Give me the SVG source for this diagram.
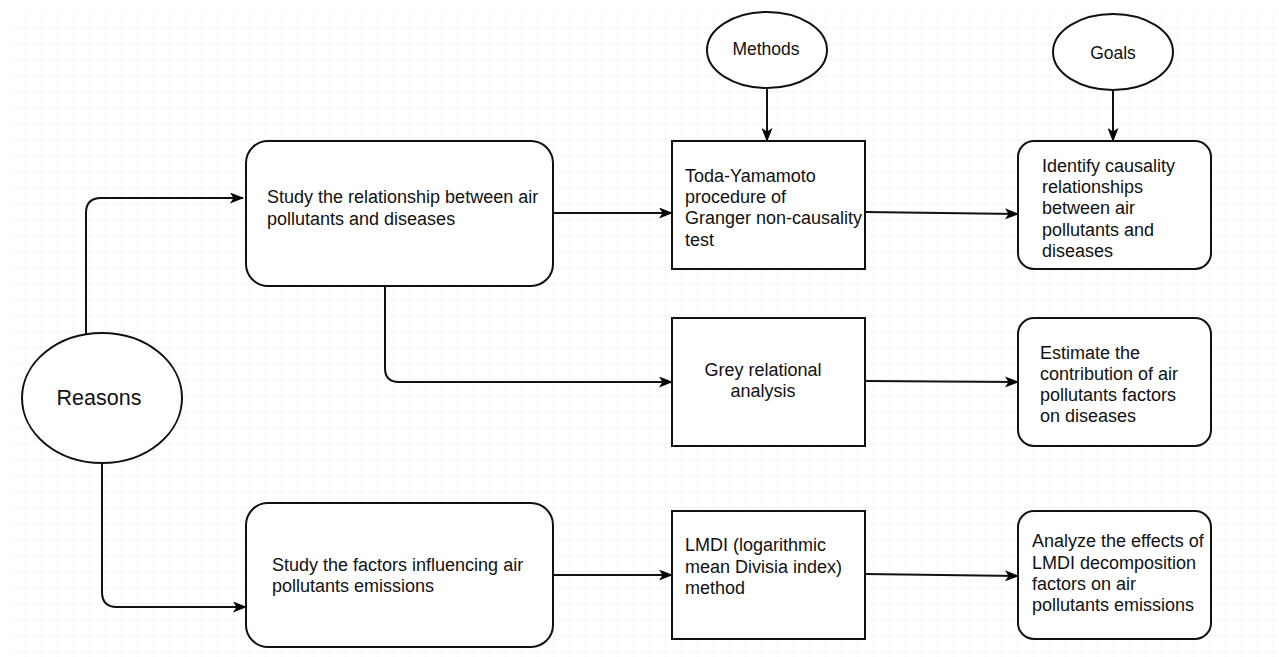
<svg xmlns="http://www.w3.org/2000/svg" width="1279" height="657" viewBox="0 0 1279 657">
<defs>
<pattern id="grid" x="10" y="12" width="16" height="16" patternUnits="userSpaceOnUse">
<path d="M16 0V16M0 16H16" fill="none" stroke="#ececec" stroke-width="1"/>
</pattern>
<marker id="arr" viewBox="0 0 14 11" refX="13" refY="5.5" markerWidth="14" markerHeight="11" markerUnits="userSpaceOnUse" orient="auto">
<path d="M0 0L14 5.5L0 11L3.5 5.5Z" fill="#000"/>
</marker>
</defs>
<style>
.n{fill:#fff;stroke:#111;stroke-width:2}
.c{fill:none;stroke:#111;stroke-width:2;marker-end:url(#arr)}
text{font-family:"Liberation Sans",Arial,sans-serif;font-size:18px;fill:#111}
</style>
<rect width="1279" height="657" fill="#fff"/>
<rect x="10" y="12" width="1269" height="645" fill="url(#grid)"/>
<g id="connectors">
<path class="c" d="M86 334V213Q86 198 101 198H243"/>
<path class="c" d="M102 463V592Q102 607 117 607H246"/>
<path class="c" d="M553 213H672"/>
<path class="c" d="M385 286V368Q385 382 399 382H672"/>
<path class="c" d="M553 575H672"/>
<path class="c" d="M767 88V141"/>
<path class="c" d="M1113 90V141"/>
<path class="c" d="M865 212L1018 214"/>
<path class="c" d="M865 381L1018 382"/>
<path class="c" d="M865 574L1018 576"/>
</g>
<g id="reasons"><ellipse class="n" cx="102" cy="398" rx="80" ry="65"/><text x="99" y="405" text-anchor="middle" style="font-size:21.5px">Reasons</text></g>
<g id="methods"><ellipse class="n" cx="767" cy="50" rx="60" ry="38"/><text x="766" y="55" text-anchor="middle" style="font-size:17.5px">Methods</text></g>
<g id="goals"><ellipse class="n" cx="1113" cy="52" rx="60" ry="38"/><text x="1113" y="59" text-anchor="middle" style="font-size:17.5px">Goals</text></g>
<g id="study-relationship"><rect class="n" x="246" y="141" width="307" height="145" rx="22"/><text x="267" y="203">Study the relationship between air</text><text x="267" y="225">pollutants and diseases</text></g>
<g id="study-factors"><rect class="n" x="246" y="503" width="307" height="144" rx="22"/><text x="272" y="571">Study the factors influencing air</text><text x="272" y="592">pollutants emissions</text></g>
<g id="toda"><rect class="n" x="672" y="141" width="193" height="128"/><text x="685" y="182">Toda-Yamamoto</text><text x="685" y="203">procedure of</text><text x="685" y="224">Granger non-causality</text><text x="685" y="246">test</text></g>
<g id="grey"><rect class="n" x="672" y="318" width="193" height="128"/><text x="763" y="376" text-anchor="middle">Grey relational</text><text x="763" y="397" text-anchor="middle">analysis</text></g>
<g id="lmdi"><rect class="n" x="672" y="511" width="193" height="128"/><text x="685" y="551">LMDI (logarithmic</text><text x="685" y="573">mean Divisia index)</text><text x="685" y="594">method</text></g>
<g id="identify"><rect class="n" x="1018" y="141" width="193" height="128" rx="16"/><text x="1042" y="172">Identify causality</text><text x="1042" y="193">relationships</text><text x="1042" y="214">between air</text><text x="1042" y="236">pollutants and</text><text x="1042" y="257">diseases</text></g>
<g id="estimate"><rect class="n" x="1018" y="318" width="193" height="128" rx="16"/><text x="1040" y="359">Estimate the</text><text x="1040" y="380">contribution of air</text><text x="1040" y="401">pollutants factors</text><text x="1040" y="422">on diseases</text></g>
<g id="analyze"><rect class="n" x="1018" y="511" width="193" height="128" rx="16"/><text x="1032" y="547">Analyze the effects of</text><text x="1032" y="569">LMDI decomposition</text><text x="1032" y="590">factors on air</text><text x="1032" y="611">pollutants emissions</text></g>
</svg>
